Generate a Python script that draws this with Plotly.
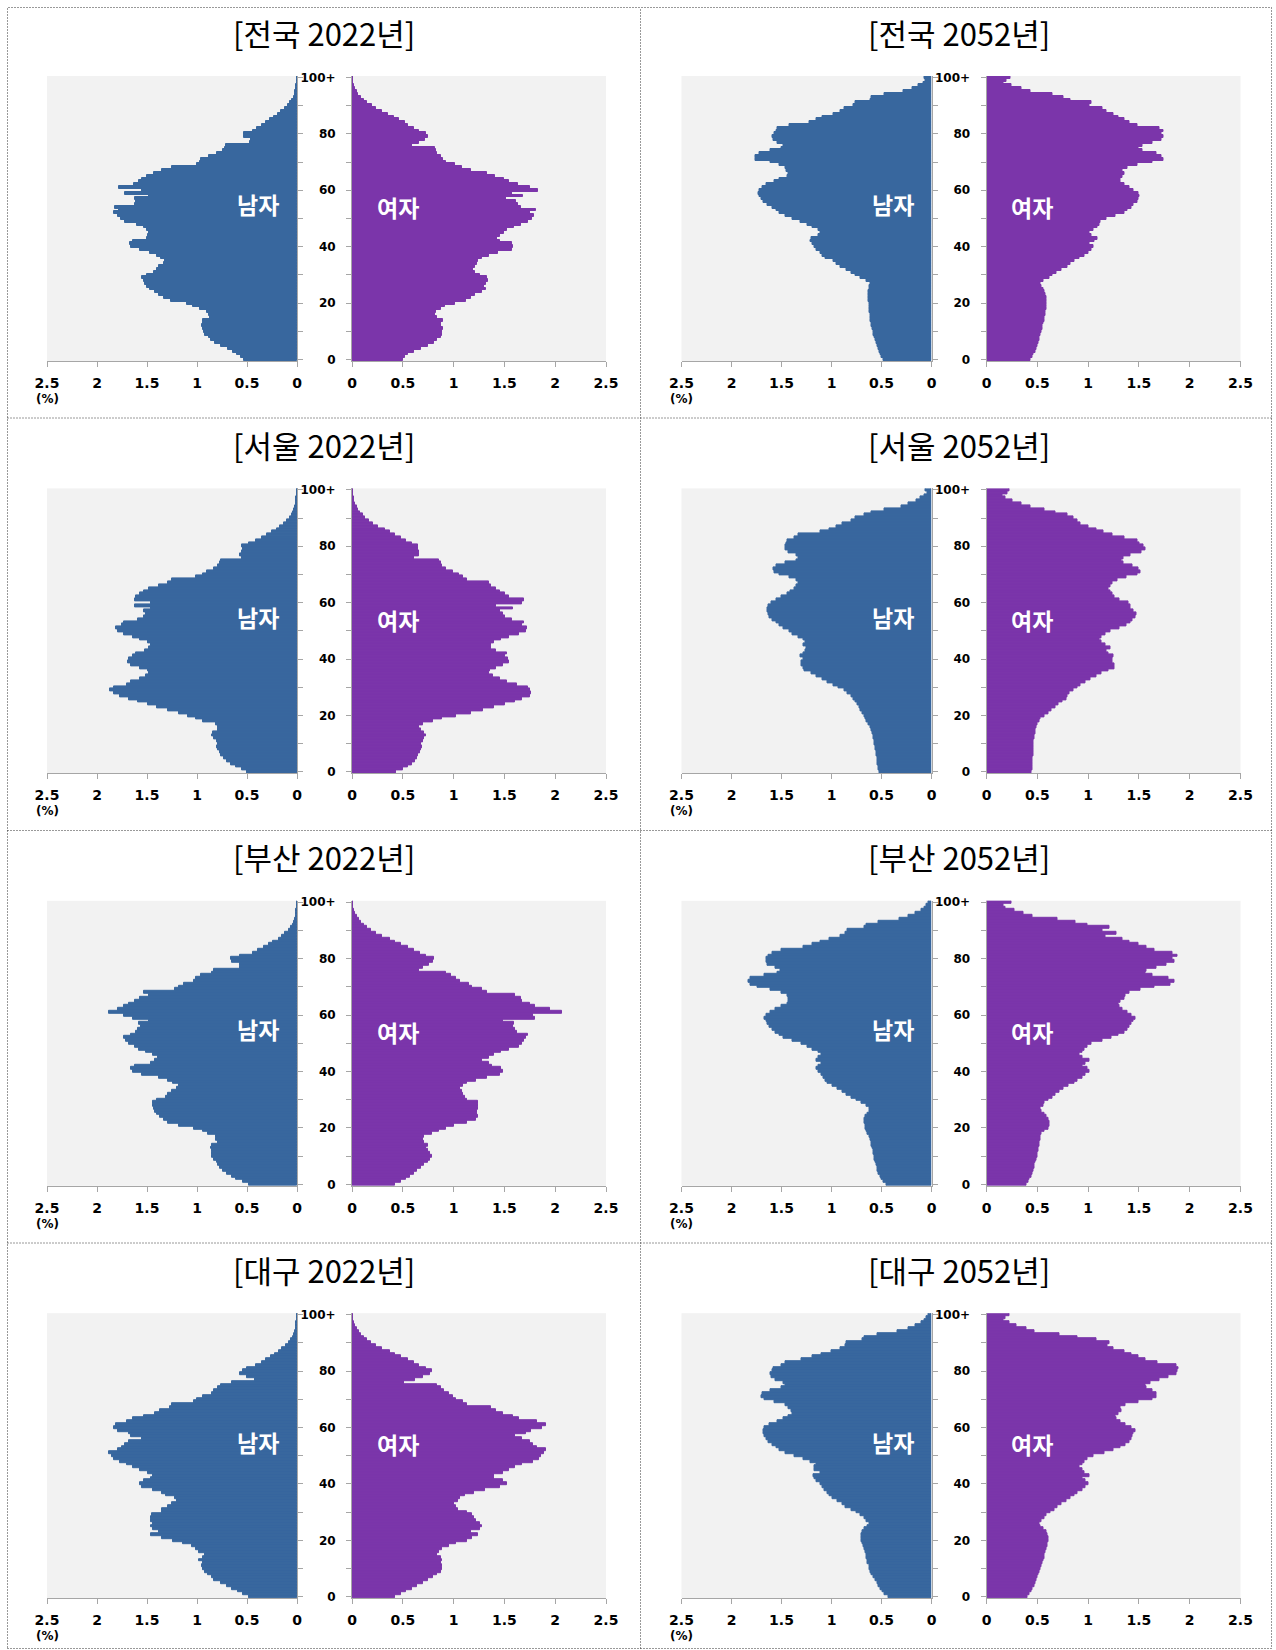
import plotly.graph_objects as go

ages = list(range(101))
age_ticks = [0, 20, 40, 60, 80, 100]
age_tick_text = ["0", "20", "40", "60", "80", "100+"]
pct_ticks = [0, 0.5, 1, 1.5, 2, 2.5]
pct_tick_text = ["0", "0.5", "1", "1.5", "2", "2.5"]

titles = ["[전국 2022년]", "[전국 2052년]",
          "[서울 2022년]", "[서울 2052년]",
          "[부산 2022년]", "[부산 2052년]",
          "[대구 2022년]", "[대구 2052년]"]

# % of population by single year of age, 0 .. 100+
male_nat_2022 = [
    0.53, 0.56, 0.60, 0.64, 0.69, 0.76, 0.82, 0.86, 0.88, 0.92,
    0.93, 0.94, 0.95, 0.94, 0.94, 0.87, 0.88, 0.90, 0.97, 1.04,
    1.10, 1.26, 1.33, 1.38, 1.42, 1.47, 1.50, 1.52, 1.53, 1.55,
    1.50, 1.43, 1.40, 1.38, 1.33, 1.32, 1.36, 1.40, 1.47, 1.57,
    1.66, 1.67, 1.64, 1.50, 1.49, 1.48, 1.50, 1.53, 1.60, 1.72,
    1.76, 1.79, 1.83, 1.78, 1.82, 1.62, 1.61, 1.62, 1.48, 1.72,
    1.55, 1.78, 1.63, 1.58, 1.55, 1.50, 1.43, 1.35, 1.25, 1.00,
    0.97, 0.96, 0.88, 0.80, 0.74, 0.72, 0.71, 0.47, 0.46, 0.53,
    0.53, 0.44, 0.40, 0.35, 0.31, 0.27, 0.23, 0.19, 0.16, 0.12,
    0.09, 0.07, 0.05, 0.035, 0.025, 0.016, 0.010, 0.006, 0.004, 0.003,
    0.003]
female_nat_2022 = [
    0.50, 0.52, 0.55, 0.61, 0.68, 0.75, 0.81, 0.84, 0.88, 0.89,
    0.89, 0.90, 0.88, 0.88, 0.90, 0.84, 0.82, 0.83, 0.88, 0.92,
    1.01, 1.12, 1.17, 1.21, 1.28, 1.32, 1.30, 1.32, 1.34, 1.33,
    1.26, 1.21, 1.19, 1.21, 1.23, 1.24, 1.28, 1.35, 1.44, 1.57,
    1.58, 1.57, 1.46, 1.43, 1.46, 1.50, 1.53, 1.59, 1.66, 1.73,
    1.77, 1.79, 1.75, 1.81, 1.66, 1.63, 1.61, 1.52, 1.68, 1.57,
    1.83, 1.75, 1.63, 1.55, 1.50, 1.41, 1.33, 1.17, 1.08, 1.01,
    0.93, 0.90, 0.88, 0.84, 0.83, 0.82, 0.59, 0.66, 0.72, 0.75,
    0.73, 0.66, 0.61, 0.55, 0.52, 0.46, 0.41, 0.35, 0.30, 0.24,
    0.20, 0.15, 0.12, 0.09, 0.06, 0.045, 0.03, 0.02, 0.013, 0.008,
    0.01]
male_nat_2052 = [
    0.48, 0.50, 0.51, 0.52, 0.53, 0.54, 0.55, 0.56, 0.57, 0.58,
    0.585, 0.59, 0.60, 0.60, 0.61, 0.61, 0.615, 0.62, 0.62, 0.62,
    0.625, 0.63, 0.63, 0.63, 0.63, 0.625, 0.62, 0.61, 0.65, 0.71,
    0.76, 0.80, 0.85, 0.91, 0.95, 0.98, 1.06, 1.09, 1.11, 1.15,
    1.17, 1.19, 1.21, 1.20, 1.13, 1.11, 1.13, 1.19, 1.24, 1.31,
    1.39, 1.46, 1.52, 1.55, 1.59, 1.64, 1.68, 1.70, 1.72, 1.73,
    1.72, 1.69, 1.65, 1.57, 1.52, 1.44, 1.43, 1.45, 1.46, 1.52,
    1.61, 1.76, 1.76, 1.72, 1.61, 1.50, 1.48, 1.54, 1.58, 1.59,
    1.57, 1.55, 1.54, 1.42, 1.22, 1.15, 1.09, 0.98, 0.91, 0.87,
    0.78, 0.76, 0.61, 0.60, 0.47, 0.28, 0.19, 0.13, 0.08, 0.06,
    0.07]
female_nat_2052 = [
    0.43, 0.45, 0.46, 0.48, 0.49, 0.50, 0.51, 0.52, 0.525, 0.535,
    0.54, 0.55, 0.555, 0.56, 0.57, 0.575, 0.58, 0.585, 0.59, 0.59,
    0.59, 0.59, 0.59, 0.58, 0.575, 0.56, 0.54, 0.535, 0.56, 0.62,
    0.65, 0.69, 0.74, 0.80, 0.83, 0.87, 0.92, 0.96, 1.00, 1.03,
    1.05, 1.01, 1.06, 1.09, 1.03, 1.01, 1.05, 1.09, 1.11, 1.12,
    1.18, 1.27, 1.36, 1.39, 1.43, 1.45, 1.49, 1.50, 1.51, 1.50,
    1.45, 1.41, 1.36, 1.32, 1.32, 1.34, 1.36, 1.34, 1.39, 1.49,
    1.63, 1.74, 1.72, 1.67, 1.54, 1.50, 1.54, 1.63, 1.72, 1.74,
    1.72, 1.74, 1.70, 1.49, 1.41, 1.36, 1.30, 1.25, 1.18, 1.14,
    1.01, 1.03, 0.83, 0.76, 0.65, 0.43, 0.34, 0.25, 0.17, 0.20,
    0.24]
male_seoul_2022 = [
    0.50, 0.55, 0.61, 0.66, 0.70, 0.73, 0.76, 0.77, 0.79, 0.80,
    0.79, 0.80, 0.83, 0.85, 0.84, 0.79, 0.79, 0.81, 0.94, 1.01,
    1.09, 1.18, 1.29, 1.40, 1.49, 1.59, 1.68, 1.77, 1.83, 1.87,
    1.83, 1.70, 1.66, 1.57, 1.51, 1.48, 1.49, 1.57, 1.66, 1.69,
    1.68, 1.64, 1.61, 1.52, 1.48, 1.46, 1.49, 1.57, 1.64, 1.73,
    1.79, 1.81, 1.75, 1.73, 1.59, 1.53, 1.51, 1.53, 1.46, 1.62,
    1.46, 1.62, 1.61, 1.57, 1.53, 1.48, 1.38, 1.29, 1.25, 1.01,
    0.94, 0.90, 0.83, 0.79, 0.77, 0.76, 0.55, 0.57, 0.55, 0.54,
    0.55, 0.48, 0.41, 0.35, 0.30, 0.25, 0.20, 0.17, 0.13, 0.10,
    0.074, 0.055, 0.04, 0.03, 0.02, 0.014, 0.01, 0.007, 0.005, 0.003,
    0.003]
female_seoul_2022 = [
    0.43, 0.50, 0.55, 0.59, 0.62, 0.64, 0.65, 0.67, 0.68, 0.69,
    0.68, 0.70, 0.71, 0.73, 0.71, 0.68, 0.66, 0.70, 0.80, 0.89,
    1.02, 1.17, 1.29, 1.40, 1.51, 1.60, 1.67, 1.75, 1.76, 1.75,
    1.73, 1.62, 1.53, 1.46, 1.39, 1.35, 1.36, 1.42, 1.49, 1.55,
    1.54, 1.51, 1.53, 1.42, 1.37, 1.37, 1.40, 1.47, 1.55, 1.64,
    1.71, 1.72, 1.67, 1.69, 1.57, 1.51, 1.49, 1.46, 1.58, 1.42,
    1.67, 1.69, 1.55, 1.51, 1.46, 1.42, 1.37, 1.35, 1.13, 1.09,
    1.05, 0.99, 0.93, 0.89, 0.88, 0.86, 0.61, 0.66, 0.66, 0.65,
    0.65, 0.59, 0.53, 0.48, 0.42, 0.37, 0.32, 0.26, 0.21, 0.17,
    0.13, 0.11, 0.08, 0.06, 0.045, 0.033, 0.023, 0.016, 0.011, 0.008,
    0.01]
male_seoul_2052 = [
    0.52, 0.53, 0.53, 0.54, 0.54, 0.54, 0.55, 0.55, 0.56, 0.56,
    0.57, 0.57, 0.58, 0.585, 0.59, 0.60, 0.615, 0.63, 0.65, 0.66,
    0.67, 0.69, 0.71, 0.725, 0.74, 0.76, 0.78, 0.80, 0.84, 0.87,
    0.93, 0.98, 1.04, 1.09, 1.15, 1.20, 1.27, 1.28, 1.30, 1.30,
    1.28, 1.31, 1.28, 1.26, 1.25, 1.28, 1.26, 1.28, 1.33, 1.39,
    1.42, 1.48, 1.52, 1.55, 1.59, 1.62, 1.63, 1.64, 1.64, 1.63,
    1.60, 1.55, 1.50, 1.44, 1.41, 1.37, 1.35, 1.33, 1.35, 1.42,
    1.52, 1.57, 1.58, 1.55, 1.46, 1.35, 1.33, 1.35, 1.43, 1.46,
    1.46, 1.45, 1.44, 1.37, 1.33, 1.11, 1.02, 0.95, 0.89, 0.80,
    0.76, 0.67, 0.60, 0.47, 0.30, 0.23, 0.15, 0.11, 0.07, 0.045,
    0.06]
female_seoul_2052 = [
    0.44, 0.45, 0.45, 0.455, 0.455, 0.455, 0.46, 0.46, 0.46, 0.46,
    0.46, 0.46, 0.47, 0.47, 0.48, 0.48, 0.49, 0.50, 0.52, 0.53,
    0.57, 0.61, 0.64, 0.68, 0.71, 0.75, 0.79, 0.80, 0.82, 0.86,
    0.90, 0.93, 0.97, 1.02, 1.08, 1.13, 1.20, 1.26, 1.26, 1.24,
    1.24, 1.25, 1.20, 1.18, 1.22, 1.17, 1.13, 1.11, 1.13, 1.17,
    1.22, 1.31, 1.38, 1.42, 1.44, 1.47, 1.48, 1.45, 1.42, 1.42,
    1.40, 1.31, 1.26, 1.24, 1.22, 1.20, 1.22, 1.24, 1.29, 1.38,
    1.49, 1.52, 1.50, 1.44, 1.35, 1.33, 1.35, 1.42, 1.53, 1.56,
    1.55, 1.51, 1.49, 1.36, 1.24, 1.15, 1.08, 1.00, 0.93, 0.90,
    0.86, 0.80, 0.68, 0.57, 0.43, 0.34, 0.26, 0.19, 0.155, 0.21,
    0.23]
male_busan_2022 = [
    0.48, 0.54, 0.61, 0.65, 0.70, 0.74, 0.77, 0.79, 0.80, 0.83,
    0.85, 0.85, 0.85, 0.86, 0.85, 0.79, 0.81, 0.81, 0.89, 0.94,
    1.03, 1.18, 1.29, 1.33, 1.37, 1.40, 1.42, 1.43, 1.44, 1.44,
    1.40, 1.31, 1.29, 1.25, 1.20, 1.18, 1.24, 1.29, 1.38, 1.55,
    1.64, 1.66, 1.62, 1.46, 1.42, 1.39, 1.44, 1.51, 1.58, 1.62,
    1.68, 1.71, 1.73, 1.66, 1.61, 1.59, 1.56, 1.58, 1.48, 1.64,
    1.73, 1.88, 1.79, 1.73, 1.68, 1.62, 1.57, 1.48, 1.53, 1.22,
    1.18, 1.13, 1.03, 1.01, 0.96, 0.85, 0.83, 0.57, 0.57, 0.65,
    0.66, 0.57, 0.44, 0.39, 0.33, 0.28, 0.24, 0.18, 0.15, 0.12,
    0.085, 0.063, 0.045, 0.033, 0.023, 0.015, 0.01, 0.006, 0.004, 0.003,
    0.003]
female_busan_2022 = [
    0.42, 0.48, 0.53, 0.57, 0.61, 0.64, 0.68, 0.71, 0.75, 0.77,
    0.79, 0.77, 0.75, 0.73, 0.75, 0.71, 0.70, 0.71, 0.79, 0.86,
    0.93, 1.00, 1.13, 1.22, 1.24, 1.23, 1.23, 1.24, 1.24, 1.24,
    1.13, 1.11, 1.09, 1.08, 1.06, 1.09, 1.13, 1.22, 1.33, 1.46,
    1.49, 1.47, 1.38, 1.35, 1.28, 1.35, 1.40, 1.47, 1.55, 1.64,
    1.67, 1.69, 1.71, 1.73, 1.62, 1.60, 1.58, 1.59, 1.49, 1.80,
    1.78, 2.07, 1.95, 1.80, 1.75, 1.67, 1.66, 1.60, 1.33, 1.28,
    1.18, 1.15, 1.06, 1.02, 0.97, 0.93, 0.66, 0.70, 0.76, 0.80,
    0.81, 0.73, 0.67, 0.61, 0.55, 0.48, 0.42, 0.37, 0.30, 0.24,
    0.19, 0.15, 0.12, 0.09, 0.065, 0.047, 0.033, 0.022, 0.014, 0.009,
    0.012]
male_busan_2052 = [
    0.45, 0.48, 0.50, 0.51, 0.53, 0.54, 0.54, 0.55, 0.56, 0.57,
    0.57, 0.58, 0.58, 0.59, 0.60, 0.60, 0.61, 0.62, 0.64, 0.65,
    0.66, 0.66, 0.67, 0.67, 0.665, 0.64, 0.62, 0.625, 0.65, 0.70,
    0.75, 0.80, 0.85, 0.89, 0.94, 0.99, 1.04, 1.06, 1.08, 1.10,
    1.13, 1.15, 1.13, 1.10, 1.15, 1.13, 1.10, 1.13, 1.19, 1.24,
    1.30, 1.39, 1.48, 1.52, 1.56, 1.59, 1.62, 1.64, 1.65, 1.67,
    1.65, 1.61, 1.56, 1.50, 1.44, 1.43, 1.43, 1.44, 1.50, 1.61,
    1.74, 1.81, 1.83, 1.81, 1.67, 1.54, 1.51, 1.56, 1.64, 1.65,
    1.65, 1.63, 1.59, 1.50, 1.28, 1.19, 1.11, 1.02, 0.91, 0.86,
    0.84, 0.67, 0.65, 0.53, 0.32, 0.23, 0.16, 0.10, 0.07, 0.05,
    0.03]
female_busan_2052 = [
    0.39, 0.41, 0.42, 0.44, 0.45, 0.46, 0.47, 0.47, 0.48, 0.49,
    0.50, 0.50, 0.51, 0.51, 0.52, 0.52, 0.53, 0.53, 0.54, 0.57,
    0.61, 0.62, 0.62, 0.61, 0.59, 0.57, 0.54, 0.53, 0.56, 0.57,
    0.61, 0.65, 0.68, 0.72, 0.76, 0.81, 0.87, 0.90, 0.94, 0.97,
    1.01, 0.99, 0.94, 0.97, 1.01, 0.94, 0.92, 0.94, 0.96, 0.99,
    1.03, 1.14, 1.23, 1.30, 1.36, 1.39, 1.41, 1.43, 1.45, 1.47,
    1.43, 1.39, 1.34, 1.31, 1.30, 1.32, 1.36, 1.37, 1.41, 1.52,
    1.65, 1.81, 1.85, 1.79, 1.63, 1.56, 1.57, 1.67, 1.77, 1.85,
    1.83, 1.88, 1.83, 1.65, 1.57, 1.50, 1.41, 1.34, 1.17, 1.28,
    1.14, 1.21, 0.99, 0.88, 0.70, 0.45, 0.36, 0.28, 0.19, 0.17,
    0.25]
male_daegu_2022 = [
    0.48, 0.54, 0.59, 0.65, 0.70, 0.76, 0.83, 0.85, 0.89, 0.92,
    0.94, 0.95, 0.94, 0.98, 0.94, 0.92, 0.98, 1.01, 1.05, 1.14,
    1.24, 1.35, 1.46, 1.38, 1.44, 1.46, 1.44, 1.46, 1.46, 1.45,
    1.35, 1.35, 1.29, 1.25, 1.20, 1.22, 1.31, 1.35, 1.44, 1.55,
    1.57, 1.53, 1.46, 1.44, 1.49, 1.57, 1.64, 1.70, 1.77, 1.83,
    1.85, 1.88, 1.79, 1.75, 1.72, 1.68, 1.55, 1.66, 1.68, 1.79,
    1.83, 1.81, 1.70, 1.64, 1.53, 1.42, 1.37, 1.27, 1.25, 1.03,
    1.00, 0.94, 0.85, 0.83, 0.79, 0.76, 0.65, 0.42, 0.50, 0.57,
    0.54, 0.50, 0.41, 0.35, 0.31, 0.26, 0.22, 0.18, 0.15, 0.11,
    0.08, 0.06, 0.045, 0.032, 0.022, 0.015, 0.01, 0.006, 0.004, 0.003,
    0.003]
female_daegu_2022 = [
    0.42, 0.48, 0.53, 0.59, 0.64, 0.70, 0.75, 0.80, 0.84, 0.88,
    0.89, 0.89, 0.88, 0.89, 0.88, 0.84, 0.86, 0.89, 0.95, 1.02,
    1.13, 1.18, 1.24, 1.17, 1.26, 1.28, 1.26, 1.22, 1.20, 1.18,
    1.13, 1.04, 1.02, 1.00, 1.04, 1.06, 1.11, 1.20, 1.31, 1.46,
    1.53, 1.49, 1.40, 1.40, 1.49, 1.55, 1.60, 1.67, 1.78, 1.84,
    1.86, 1.89, 1.91, 1.82, 1.78, 1.75, 1.67, 1.60, 1.71, 1.76,
    1.87, 1.91, 1.82, 1.64, 1.58, 1.49, 1.42, 1.37, 1.13, 1.09,
    1.02, 0.99, 0.95, 0.91, 0.88, 0.84, 0.51, 0.62, 0.70, 0.77,
    0.79, 0.73, 0.66, 0.61, 0.55, 0.48, 0.42, 0.37, 0.30, 0.24,
    0.19, 0.15, 0.12, 0.09, 0.065, 0.045, 0.031, 0.021, 0.014, 0.009,
    0.011]
male_daegu_2052 = [
    0.43, 0.47, 0.49, 0.51, 0.53, 0.54, 0.56, 0.58, 0.60, 0.61,
    0.62, 0.625, 0.64, 0.64, 0.65, 0.65, 0.66, 0.67, 0.68, 0.69,
    0.70, 0.70, 0.70, 0.69, 0.67, 0.64, 0.62, 0.65, 0.67, 0.71,
    0.75, 0.80, 0.86, 0.89, 0.94, 0.99, 1.02, 1.04, 1.07, 1.09,
    1.11, 1.15, 1.17, 1.18, 1.11, 1.17, 1.17, 1.15, 1.21, 1.28,
    1.37, 1.46, 1.52, 1.55, 1.59, 1.63, 1.65, 1.67, 1.68, 1.68,
    1.67, 1.62, 1.54, 1.48, 1.43, 1.39, 1.40, 1.43, 1.46, 1.57,
    1.67, 1.70, 1.69, 1.61, 1.50, 1.46, 1.48, 1.56, 1.60, 1.61,
    1.59, 1.58, 1.50, 1.46, 1.30, 1.19, 1.10, 1.00, 0.91, 0.86,
    0.85, 0.69, 0.67, 0.54, 0.34, 0.23, 0.16, 0.10, 0.07, 0.05,
    0.03]
female_daegu_2052 = [
    0.40, 0.42, 0.44, 0.45, 0.47, 0.48, 0.49, 0.50, 0.51, 0.52,
    0.53, 0.54, 0.55, 0.56, 0.57, 0.57, 0.58, 0.59, 0.60, 0.60,
    0.61, 0.61, 0.60, 0.59, 0.56, 0.53, 0.52, 0.54, 0.57, 0.59,
    0.63, 0.67, 0.70, 0.74, 0.79, 0.83, 0.87, 0.90, 0.94, 0.97,
    1.00, 0.97, 0.94, 1.01, 0.96, 0.94, 0.92, 0.94, 0.96, 0.99,
    1.05, 1.16, 1.25, 1.32, 1.37, 1.41, 1.43, 1.44, 1.45, 1.47,
    1.43, 1.37, 1.32, 1.28, 1.27, 1.30, 1.33, 1.32, 1.37, 1.50,
    1.63, 1.67, 1.67, 1.63, 1.57, 1.56, 1.61, 1.70, 1.79, 1.87,
    1.88, 1.89, 1.87, 1.68, 1.56, 1.50, 1.43, 1.36, 1.25, 1.19,
    1.21, 1.08, 0.90, 0.72, 0.47, 0.39, 0.30, 0.23, 0.17, 0.19,
    0.23]

males = [male_nat_2022, male_nat_2052, male_seoul_2022, male_seoul_2052,
         male_busan_2022, male_busan_2052, male_daegu_2022, male_daegu_2052]
females = [female_nat_2022, female_nat_2052, female_seoul_2022, female_seoul_2052,
           female_busan_2022, female_busan_2052, female_daegu_2022, female_daegu_2052]

MALE_COLOR = "#38679e"
FEMALE_COLOR = "#7b35aa"
AXIS_COLOR = "#a6a6a6"

# the page body margin is removed in post_script, so figure px == page px
W, H = 1276, 1650


def px(x):
    return x / W


def py(y):
    return 1 - y / H


COL_STEP = 634.5
ROW_STEP = 412.4

fig = go.Figure()
annotations = []

for p in range(8):
    r, c = p // 2, p % 2
    dx, dy = c * COL_STEP, r * ROW_STEP
    km, kf = 2 * p + 1, 2 * p + 2
    ydom = [py(361 + dy), py(76 + dy)]

    fig.add_trace(go.Bar(
        x=males[p], y=ages, orientation="h", width=1,
        marker=dict(color=MALE_COLOR, line=dict(color=MALE_COLOR, width=1)),
        xaxis="x%d" % km, yaxis="y%d" % km, showlegend=False))
    fig.add_trace(go.Bar(
        x=females[p], y=ages, orientation="h", width=1,
        marker=dict(color=FEMALE_COLOR, line=dict(color=FEMALE_COLOR, width=1)),
        xaxis="x%d" % kf, yaxis="y%d" % kf, showlegend=False))

    xcommon = dict(tickvals=pct_ticks, ticktext=pct_tick_text,
                   ticks="outside", ticklen=5, tickcolor=AXIS_COLOR,
                   showline=True, linecolor=AXIS_COLOR, linewidth=1,
                   showgrid=False, zeroline=False, ticklabelstandoff=4,
                   automargin=False,
                   tickfont=dict(family="DejaVu Sans", size=14, color="black", weight="bold"))
    fig.layout["xaxis%d" % km] = dict(xcommon, domain=[px(47 + dx), px(297 + dx)],
                                      anchor="y%d" % km, range=[2.5, 0])
    fig.layout["xaxis%d" % kf] = dict(xcommon, domain=[px(352 + dx), px(606 + dx)],
                                      anchor="y%d" % kf, range=[0, 2.5])

    fig.layout["yaxis%d" % km] = dict(
        domain=ydom, anchor="x%d" % km, side="right", range=[-0.5, 100.5],
        tickvals=list(range(0, 101, 10)), ticks="outside", ticklen=5,
        tickcolor=AXIS_COLOR, showticklabels=False, showline=True,
        linecolor=AXIS_COLOR, showgrid=False, zeroline=False, automargin=False)
    fig.layout["yaxis%d" % kf] = dict(
        domain=ydom, anchor="x%d" % kf, side="left", range=[-0.5, 100.5],
        tickvals=age_ticks, ticktext=age_tick_text, ticks="outside", ticklen=5,
        tickcolor=AXIS_COLOR, minor=dict(dtick=10, ticks="outside", ticklen=5,
                                         tickcolor=AXIS_COLOR),
        ticklabelstandoff=8, showline=True, linecolor=AXIS_COLOR,
        showgrid=False, zeroline=False, automargin=False,
        tickfont=dict(family="DejaVu Sans", size=12, color="black", weight="bold"))

    annotations.append(dict(
        text=titles[p], xref="paper", yref="paper", x=px(324 + dx), y=py(32 + dy),
        xanchor="center", yanchor="middle", showarrow=False,
        font=dict(family="Noto Sans CJK KR", size=31, color="black")))
    annotations.append(dict(
        text="(%)", xref="paper", yref="paper", x=px(47 + dx), y=py(399 + dy),
        xanchor="center", yanchor="middle", showarrow=False,
        font=dict(family="DejaVu Sans", size=12, color="black", weight="bold")))
    annotations.append(dict(
        text="남자", xref="x%d" % km, yref="y%d" % km, x=0.39, y=55,
        showarrow=False, font=dict(family="Noto Sans CJK KR", size=23,
                                   color="white", weight="bold")))
    annotations.append(dict(
        text="여자", xref="x%d" % kf, yref="y%d" % kf, x=0.45, y=54,
        showarrow=False, font=dict(family="Noto Sans CJK KR", size=23,
                                   color="white", weight="bold")))

# dotted frame around the eight panels
shapes = []
dot = dict(color="#333333", width=1, dash="1px,2px")
shapes.append(dict(type="rect", xref="paper", yref="paper",
                   x0=px(7.5), x1=px(1271.5), y0=py(1648.5), y1=py(7.5), line=dot))
shapes.append(dict(type="line", xref="paper", yref="paper",
                   x0=px(640.5), x1=px(640.5), y0=py(1648.5), y1=py(7.5), line=dot))
for yy in [418, 830.5, 1243]:
    shapes.append(dict(type="line", xref="paper", yref="paper",
                       x0=px(7.5), x1=px(1271.5), y0=py(yy), y1=py(yy), line=dot))

fig.update_layout(
    width=W, height=H,
    margin=dict(l=0, r=0, t=0, b=0, pad=0),
    paper_bgcolor="white",
    plot_bgcolor="#f2f2f2",
    bargap=0,
    annotations=annotations,
    shapes=shapes,
)

fig.write_html("out.html",
               config={"displayModeBar": False},
               post_script="document.body.style.margin='0px';"
                           "document.body.style.overflow='hidden';")
